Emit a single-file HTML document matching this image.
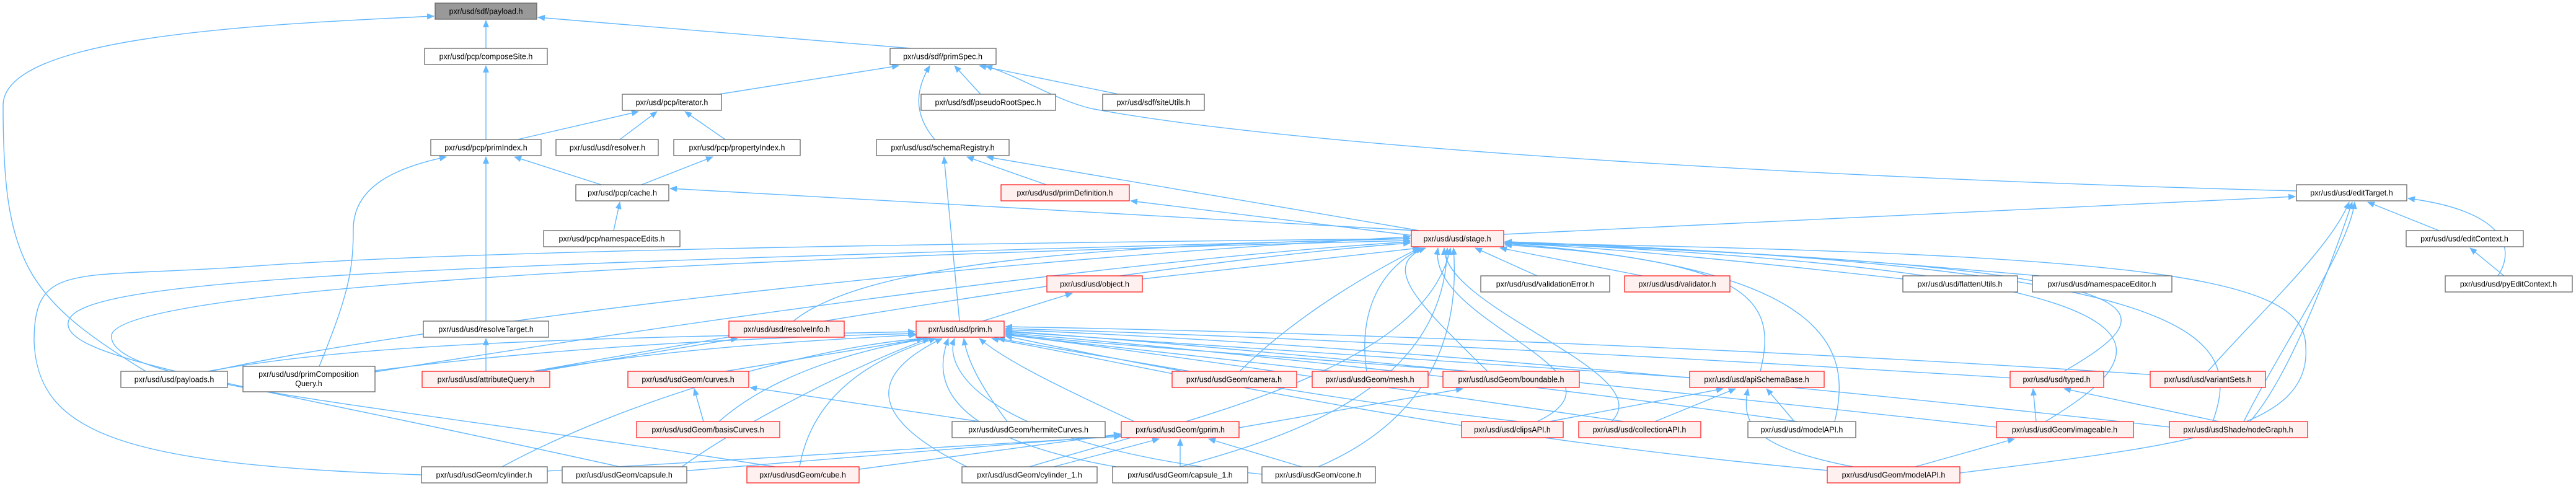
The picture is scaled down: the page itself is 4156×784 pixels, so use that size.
<!DOCTYPE html>
<html><head><meta charset="utf-8"><style>
html,body{margin:0;padding:0;background:#fff;}
svg{display:block;}
.e{fill:none;stroke:#63b8ff;stroke-width:1.4;marker-end:url(#a);}
.n rect{fill:#fff;stroke:#666;stroke-width:1.3;}
.r rect{fill:#fff0f0;stroke:#ff2020;stroke-width:1.3;}
.g rect{fill:#999;stroke:#666;stroke-width:1.3;}
text{font-family:"Liberation Sans",sans-serif;font-size:12.5px;fill:#000;text-anchor:middle;}
</style></head><body>
<svg width="4156" height="784" viewBox="0 0 4156 784" xmlns="http://www.w3.org/2000/svg">
<defs><marker id="a" markerUnits="userSpaceOnUse" markerWidth="12" markerHeight="10" refX="11" refY="5" orient="auto"><path d="M0,0 L12,5 L0,10 z" fill="#63b8ff"/></marker></defs>
<g>
<path class="e" d="M784 78 L784 33"/>
<path class="e" d="M1470 78 L868 28"/>
<path class="e" d="M235 599 C40 480,5 420,5 170 C5 60,400 40,700 26"/>
<path class="e" d="M784 225 L784 106"/>
<path class="e" d="M1160 152 L1450 106"/>
<path class="e" d="M1508 225 C1470 180,1480 140,1500 106"/>
<path class="e" d="M1582 152 L1540 106"/>
<path class="e" d="M1805 152 L1580 106"/>
<path class="e" d="M3705 308 C3000 290,2100 240,1760 175 C1700 160,1660 130,1590 106"/>
<path class="e" d="M835 225 L1030 180"/>
<path class="e" d="M1000 225 L1060 180"/>
<path class="e" d="M1170 225 L1105 180"/>
<path class="e" d="M1035 298 L1150 253"/>
<path class="e" d="M970 298 L830 253"/>
<path class="e" d="M784 518 L784 253"/>
<path class="e" d="M515 591 C560 480,570 440,570 370 C570 300,640 270,720 253"/>
<path class="e" d="M990 372 L1000 326"/>
<path class="e" d="M2285 372 L1081 304"/>
<path class="e" d="M1688 298 L1560 253"/>
<path class="e" d="M2290 372 L1592 253"/>
<path class="e" d="M1548 518 L1523 253"/>
<path class="e" d="M2280 380 L1824 324"/>
<path class="e" d="M2426 378 L3703 317"/>
<path class="e" d="M3935 372 L3820 326"/>
<path class="e" d="M4030 445 C4060 400,4040 340,3885 320"/>
<path class="e" d="M3562 599 C3650 500,3760 400,3790 326"/>
<path class="e" d="M3630 680 C3700 600,3770 400,3795 326"/>
<path class="e" d="M3620 680 C3680 560,3790 400,3799 326"/>
<path class="e" d="M4040 445 L3985 400"/>
<path class="e" d="M1843 450 L2290 400"/>
<path class="e" d="M2480 445 L2380 400"/>
<path class="e" d="M2650 445 L2420 400"/>
<path class="e" d="M3070 450 C2800 420,2600 400,2428 392"/>
<path class="e" d="M3290 445 C2900 410,2600 395,2428 390"/>
<path class="e" d="M1280 518 C1400 420,1800 395,2275 385"/>
<path class="e" d="M340 599 C600 540,1400 430,2275 382"/>
<path class="e" d="M605 600 C1100 520,1800 420,2275 390"/>
<path class="e" d="M860 599 C1300 520,1900 420,2275 392"/>
<path class="e" d="M680 766 C200 750,60 700,55 550 C55 420,120 450,400 430 C800 400,1800 390,2275 385"/>
<path class="e" d="M1000 753 C400 620,100 580,110 520 C120 450,600 430,2275 385"/>
<path class="e" d="M1250 753 C600 650,170 620,180 540 C200 470,1000 420,2275 388"/>
<path class="e" d="M2000 599 C2100 500,2230 430,2290 400"/>
<path class="e" d="M2205 599 C2190 500,2230 430,2295 400"/>
<path class="e" d="M2400 599 C2300 500,2220 430,2300 400"/>
<path class="e" d="M2480 680 C2650 600,2300 520,2320 400"/>
<path class="e" d="M2600 680 C2680 600,2330 500,2330 400"/>
<path class="e" d="M2840 599 C2870 480,2820 420,2428 395"/>
<path class="e" d="M2960 680 C2990 560,2950 430,2428 393"/>
<path class="e" d="M3330 599 C3500 500,3550 430,2428 392"/>
<path class="e" d="M3300 680 C3500 560,3560 440,2428 391"/>
<path class="e" d="M3570 680 C3620 540,3560 430,2428 390"/>
<path class="e" d="M3162 763 C3500 720,3730 700,3720 560 C3720 450,3500 410,2428 392"/>
<path class="e" d="M1904 753 C2100 700,2330 620,2335 400"/>
<path class="e" d="M1661 753 C1900 680,2300 600,2340 400"/>
<path class="e" d="M2127 753 C2250 700,2360 600,2345 400"/>
<path class="e" d="M335 599 C600 550,1000 545,1476 535"/>
<path class="e" d="M605 598 C900 560,1200 545,1476 538"/>
<path class="e" d="M860 599 C1100 560,1300 550,1478 540"/>
<path class="e" d="M870 599 L1190 546"/>
<path class="e" d="M1170 599 L1490 546"/>
<path class="e" d="M1160 680 C1250 600,1400 560,1500 546"/>
<path class="e" d="M1625 680 C1580 620,1560 580,1555 546"/>
<path class="e" d="M1830 680 C1700 620,1620 580,1580 546"/>
<path class="e" d="M1290 753 C1310 640,1400 580,1510 546"/>
<path class="e" d="M1560 753 C1350 650,1450 580,1520 546"/>
<path class="e" d="M1800 753 C1500 700,1510 600,1530 546"/>
<path class="e" d="M2036 765 C1600 720,1520 600,1540 546"/>
<path class="e" d="M1100 753 C1200 680,1400 580,1500 546"/>
<path class="e" d="M810 753 C1000 650,1300 560,1490 546"/>
<path class="e" d="M1920 599 L1610 546"/>
<path class="e" d="M2150 599 C1900 570,1700 550,1622 540"/>
<path class="e" d="M2370 599 C2000 570,1700 550,1622 538"/>
<path class="e" d="M2740 610 C2300 580,1800 550,1622 535"/>
<path class="e" d="M2450 680 C2100 640,1800 580,1622 542"/>
<path class="e" d="M2620 680 C2200 620,1800 560,1622 540"/>
<path class="e" d="M2900 680 C2400 610,1900 560,1622 537"/>
<path class="e" d="M3250 610 C2600 570,2000 540,1622 530"/>
<path class="e" d="M3480 605 C2800 560,2100 535,1622 527"/>
<path class="e" d="M3230 690 C2600 620,2000 560,1622 534"/>
<path class="e" d="M3510 690 C2800 610,2100 550,1622 532"/>
<path class="e" d="M2960 760 C2300 700,1900 600,1600 546"/>
<path class="e" d="M1135 680 L1120 627"/>
<path class="e" d="M1580 680 L1210 625"/>
<path class="e" d="M1999 690 L2360 627"/>
<path class="e" d="M1700 753 L1870 708"/>
<path class="e" d="M1904 753 L1904 708"/>
<path class="e" d="M2100 753 L1950 708"/>
<path class="e" d="M1386 757 L1808 700"/>
<path class="e" d="M1100 760 L1808 702"/>
<path class="e" d="M880 760 L1808 704"/>
<path class="e" d="M2500 680 L2780 627"/>
<path class="e" d="M2670 680 L2800 627"/>
<path class="e" d="M2895 680 L2850 627"/>
<path class="e" d="M2990 753 C2820 720,2810 680,2820 627"/>
<path class="e" d="M3285 680 L3280 627"/>
<path class="e" d="M3580 680 L3330 627"/>
<path class="e" d="M3090 753 L3250 708"/>
<path class="e" d="M784 599 L784 546"/>
<path class="e" d="M1585 518 L1730 473"/>
</g>
<g class="g"><rect x="702" y="5" width="164" height="26"/><text x="784" y="22.5">pxr/usd/sdf/payload.h</text></g>
<g class="n"><rect x="685" y="78" width="198" height="26"/><text x="784" y="95.5">pxr/usd/pcp/composeSite.h</text></g>
<g class="n"><rect x="1436" y="78" width="171" height="26"/><text x="1521" y="95.5">pxr/usd/sdf/primSpec.h</text></g>
<g class="n"><rect x="1004" y="152" width="160" height="26"/><text x="1084" y="169.5">pxr/usd/pcp/iterator.h</text></g>
<g class="n"><rect x="1486" y="152" width="217" height="26"/><text x="1594" y="169.5">pxr/usd/sdf/pseudoRootSpec.h</text></g>
<g class="n"><rect x="1779" y="152" width="164" height="26"/><text x="1861" y="169.5">pxr/usd/sdf/siteUtils.h</text></g>
<g class="n"><rect x="695" y="225" width="178" height="26"/><text x="784" y="242.5">pxr/usd/pcp/primIndex.h</text></g>
<g class="n"><rect x="897" y="225" width="165" height="26"/><text x="980" y="242.5">pxr/usd/usd/resolver.h</text></g>
<g class="n"><rect x="1087" y="225" width="204" height="26"/><text x="1189" y="242.5">pxr/usd/pcp/propertyIndex.h</text></g>
<g class="n"><rect x="1414" y="225" width="214" height="26"/><text x="1521" y="242.5">pxr/usd/usd/schemaRegistry.h</text></g>
<g class="n"><rect x="929" y="298" width="150" height="26"/><text x="1004" y="315.5">pxr/usd/pcp/cache.h</text></g>
<g class="r"><rect x="1615" y="298" width="207" height="26"/><text x="1718" y="315.5">pxr/usd/usd/primDefinition.h</text></g>
<g class="n"><rect x="3705" y="298" width="178" height="26"/><text x="3794" y="315.5">pxr/usd/usd/editTarget.h</text></g>
<g class="n"><rect x="877" y="372" width="220" height="26"/><text x="987" y="389.5">pxr/usd/pcp/namespaceEdits.h</text></g>
<g class="r"><rect x="2277" y="372" width="149" height="26"/><text x="2351" y="389.5">pxr/usd/usd/stage.h</text></g>
<g class="n"><rect x="3882" y="372" width="189" height="26"/><text x="3976" y="389.5">pxr/usd/usd/editContext.h</text></g>
<g class="r"><rect x="1689" y="445" width="154" height="26"/><text x="1766" y="462.5">pxr/usd/usd/object.h</text></g>
<g class="n"><rect x="2389" y="445" width="208" height="26"/><text x="2493" y="462.5">pxr/usd/usd/validationError.h</text></g>
<g class="r"><rect x="2621" y="445" width="170" height="26"/><text x="2706" y="462.5">pxr/usd/usd/validator.h</text></g>
<g class="n"><rect x="3070" y="445" width="185" height="26"/><text x="3162" y="462.5">pxr/usd/usd/flattenUtils.h</text></g>
<g class="n"><rect x="3279" y="445" width="225" height="26"/><text x="3391" y="462.5">pxr/usd/usd/namespaceEditor.h</text></g>
<g class="n"><rect x="3945" y="445" width="205" height="26"/><text x="4047" y="462.5">pxr/usd/usd/pyEditContext.h</text></g>
<g class="n"><rect x="683" y="518" width="202" height="26"/><text x="784" y="535.5">pxr/usd/usd/resolveTarget.h</text></g>
<g class="r"><rect x="1176" y="518" width="186" height="26"/><text x="1269" y="535.5">pxr/usd/usd/resolveInfo.h</text></g>
<g class="r"><rect x="1478" y="518" width="142" height="26"/><text x="1549" y="535.5">pxr/usd/usd/prim.h</text></g>
<g class="n"><rect x="195" y="599" width="172" height="26"/><text x="281" y="616.5">pxr/usd/usd/payloads.h</text></g>
<g class="n"><rect x="392" y="591" width="213" height="41"/><text x="498" y="608">pxr/usd/usd/primComposition</text><text x="498" y="623">Query.h</text></g>
<g class="r"><rect x="681" y="599" width="206" height="26"/><text x="784" y="616.5">pxr/usd/usd/attributeQuery.h</text></g>
<g class="r"><rect x="1013" y="599" width="195" height="26"/><text x="1110" y="616.5">pxr/usd/usdGeom/curves.h</text></g>
<g class="r"><rect x="1891" y="599" width="201" height="26"/><text x="1991" y="616.5">pxr/usd/usdGeom/camera.h</text></g>
<g class="r"><rect x="2117" y="599" width="187" height="26"/><text x="2210" y="616.5">pxr/usd/usdGeom/mesh.h</text></g>
<g class="r"><rect x="2328" y="599" width="220" height="26"/><text x="2438" y="616.5">pxr/usd/usdGeom/boundable.h</text></g>
<g class="r"><rect x="2726" y="599" width="217" height="26"/><text x="2834" y="616.5">pxr/usd/usd/apiSchemaBase.h</text></g>
<g class="r"><rect x="3243" y="599" width="151" height="26"/><text x="3318" y="616.5">pxr/usd/usd/typed.h</text></g>
<g class="r"><rect x="3469" y="599" width="186" height="26"/><text x="3562" y="616.5">pxr/usd/usd/variantSets.h</text></g>
<g class="r"><rect x="1027" y="680" width="231" height="26"/><text x="1142" y="697.5">pxr/usd/usdGeom/basisCurves.h</text></g>
<g class="n"><rect x="1536" y="680" width="247" height="26"/><text x="1659" y="697.5">pxr/usd/usdGeom/hermiteCurves.h</text></g>
<g class="r"><rect x="1809" y="680" width="190" height="26"/><text x="1904" y="697.5">pxr/usd/usdGeom/gprim.h</text></g>
<g class="r"><rect x="2358" y="680" width="164" height="26"/><text x="2440" y="697.5">pxr/usd/usd/clipsAPI.h</text></g>
<g class="r"><rect x="2547" y="680" width="197" height="26"/><text x="2645" y="697.5">pxr/usd/usd/collectionAPI.h</text></g>
<g class="n"><rect x="2820" y="680" width="174" height="26"/><text x="2907" y="697.5">pxr/usd/usd/modelAPI.h</text></g>
<g class="r"><rect x="3221" y="680" width="221" height="26"/><text x="3331" y="697.5">pxr/usd/usdGeom/imageable.h</text></g>
<g class="r"><rect x="3500" y="680" width="223" height="26"/><text x="3611" y="697.5">pxr/usd/usdShade/nodeGraph.h</text></g>
<g class="n"><rect x="680" y="753" width="203" height="26"/><text x="781" y="770.5">pxr/usd/usdGeom/cylinder.h</text></g>
<g class="n"><rect x="907" y="753" width="201" height="26"/><text x="1007" y="770.5">pxr/usd/usdGeom/capsule.h</text></g>
<g class="r"><rect x="1205" y="753" width="181" height="26"/><text x="1295" y="770.5">pxr/usd/usdGeom/cube.h</text></g>
<g class="n"><rect x="1552" y="753" width="218" height="26"/><text x="1661" y="770.5">pxr/usd/usdGeom/cylinder_1.h</text></g>
<g class="n"><rect x="1795" y="753" width="218" height="26"/><text x="1904" y="770.5">pxr/usd/usdGeom/capsule_1.h</text></g>
<g class="n"><rect x="2036" y="753" width="183" height="26"/><text x="2127" y="770.5">pxr/usd/usdGeom/cone.h</text></g>
<g class="r"><rect x="2948" y="753" width="214" height="26"/><text x="3055" y="770.5">pxr/usd/usdGeom/modelAPI.h</text></g>
</svg>
</body></html>
